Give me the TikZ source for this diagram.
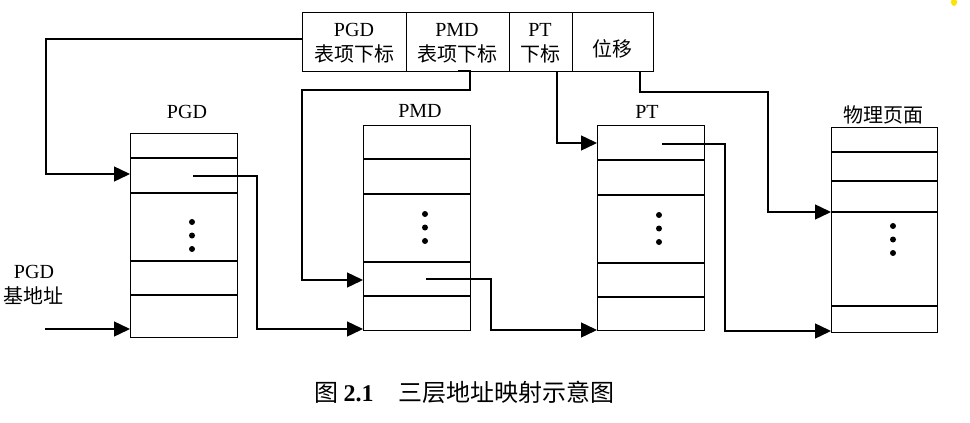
\documentclass[tikz,border=0pt]{standalone}
\usepackage{fontspec}
\setmainfont{Liberation Serif}
\newfontfamily\cjk{Noto Sans CJK SC}
\usetikzlibrary{arrows.meta}
\begin{document}
\begin{tikzpicture}[x=1pt,y=-1pt,line width=1.4pt,
  tbl/.style={draw,rectangle,inner sep=0pt,anchor=north west,minimum width=107pt,minimum height=205pt},
  cell/.style={draw,rectangle,inner sep=0pt,anchor=north west,minimum height=59pt},
  conn/.style={-{Triangle[length=16pt,width=15pt]}},
  dotm/.style={circle,fill,inner sep=0pt,minimum size=6pt},
  lbl/.style={font=\fontsize{20}{25}\selectfont,inner sep=0pt,align=center}]
\useasboundingbox (0,0) rectangle (970,423);

% address register
\node[cell,minimum width=104pt] (a1) at (302,12) {};
\node[cell,minimum width=103pt] (a2) at (406,12) {};
\node[cell,minimum width=63pt] (a3) at (509,12) {};
\node[cell,minimum width=81pt] (a4) at (572,12) {};
\node[lbl] (t1) at (354,43) {PGD\\{\cjk 表项下标}};
\node[lbl] (t2) at (457,43) {PMD\\{\cjk 表项下标}};
\node[lbl] (t3) at (540,43) {PT\\{\cjk 下标}};
\node[lbl] (t4) at (612,49) {\cjk 位移};

% tables
\node[tbl,minimum height=204pt] (pgd) at (130,133) {};
\foreach \y in {158,193,261,295} \draw (130,\y) -- (237,\y);
\node[tbl] (pmd) at (363,125) {};
\foreach \y in {159,194,262,296} \draw (363,\y) -- (470,\y);
\node[tbl] (pt) at (597,125) {};
\foreach \y in {160,195,263,297} \draw (597,\y) -- (704,\y);
\node[tbl,minimum width=106pt] (pg) at (831,127) {};
\foreach \y in {152,181,212,306} \draw (831,\y) -- (937,\y);

% dots
\foreach \x/\y in {192/222,425/214,659/215,893/226}{
  \node[dotm] at (\x,\y) {};
  \node[dotm] at (\x,\y+13.5) {};
  \node[dotm] at (\x,\y+27) {};
}

% labels
\node[lbl] (lpgd) at (187,112) {PGD};
\node[lbl] (lpmd) at (420,111) {PMD};
\node[lbl] (lpt) at (647,112) {PT};
\node[lbl] (lpg) at (883,115) {\cjk 物理页面};
\node[lbl] (lbase) at (34,285) {PGD\\{\cjk 基地址}};

% connectors
\coordinate (base) at (45,329);
\coordinate (p1) at (193,176);
\coordinate (p2) at (426,279);
\coordinate (p3) at (662,144);
\draw[conn] (a1.west |- 0,39) -- (46,39) -- (46,174) -- (pgd.west |- 0,174);
\draw[conn] (base) -- (pgd.west |- base);
\draw[conn] (p1) -- (257,176) -- (257,329) -- (pmd.west |- 0,329);
\draw[conn] (a2.south |- 0,71) ++(0,0) -- (470,71) -- (470,90) -- (302,90) -- (302,280) -- (pmd.west |- 0,280);
\draw[conn] (p2) -- (491,279) -- (491,330) -- (pt.west |- 0,330);
\draw[conn] (a3.south |- 0,71) ++(0,0) (557,71) -- (557,143) -- (pt.west |- 0,143);
\draw[conn] (p3) -- (725,144) -- (725,331) -- (pg.west |- 0,331);
\draw[conn] (640,71) -- (640,92) -- (768,92) -- (768,212) -- (pg.west |- 0,212);

% caption
\node[inner sep=0pt,anchor=west,font=\fontsize{24}{28}\selectfont] (cap) at (314,392)
  {{\cjk 图}\hspace{5pt}\textbf{2.1}\hspace{25pt}{\cjk 三层地址映射示意图}};

\fill[yellow!85!orange] (954,2) ellipse (3 and 4);
\end{tikzpicture}
\end{document}
